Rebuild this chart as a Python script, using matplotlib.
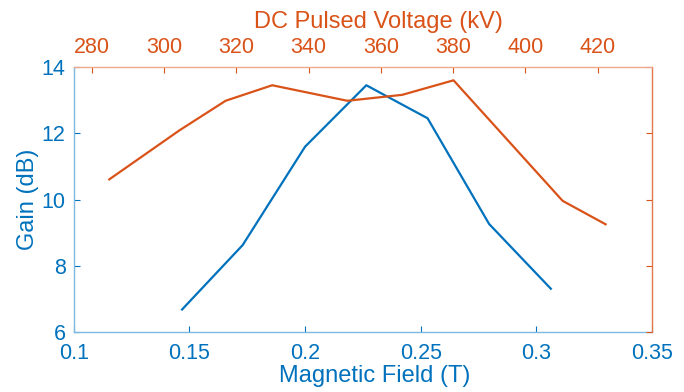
import matplotlib
matplotlib.use("Agg")
import matplotlib.pyplot as plt

# blue curve: gain vs magnetic field
field_T = [0.1468, 0.173, 0.2, 0.2265, 0.253, 0.2796, 0.3063]
gain_field = [6.67, 8.62, 11.60, 13.46, 12.46, 9.26, 7.30]

# orange curve: gain vs DC pulsed voltage
voltage_kV = [284.8, 304.3, 317.0, 329.9, 350.7, 365.9, 380.1, 410.3, 422.2]
gain_voltage = [10.61, 12.10, 12.99, 13.46, 12.99, 13.17, 13.61, 9.96, 9.25]

field_ticks = [0.1, 0.15, 0.2, 0.25, 0.3, 0.35]
field_ticklabels = ["0.1", "0.15", "0.2", "0.25", "0.3", "0.35"]
voltage_ticks = [280, 300, 320, 340, 360, 380, 400, 420]
gain_ticks = [6, 8, 10, 12, 14]

BLUE = "#0072BD"
ORANGE = "#D95319"
TICK_FS = 15.5
LABEL_FS = 17

plt.rcParams["font.family"] = ["Liberation Sans", "DejaVu Sans"]

fig = plt.figure(figsize=(6.84, 3.92), dpi=100)
rect = [0.108, 0.154, 0.845, 0.674]

ax = fig.add_axes(rect)
ax.plot(field_T, gain_field, color=BLUE, linewidth=1.6)
ax.set_xlim(0.1, 0.35)
ax.set_ylim(6, 14)
ax.set_xticks(field_ticks)
ax.set_xticklabels(field_ticklabels)
ax.set_yticks(gain_ticks)
ax.tick_params(axis="both", direction="in", length=4, width=0.8,
               colors=BLUE, labelsize=TICK_FS)
ax.tick_params(axis="x", pad=8)
ax.tick_params(axis="y", pad=6)
ax.set_xlabel("Magnetic Field (T)", color=BLUE, fontsize=LABEL_FS)
ax.set_ylabel("Gain (dB)", color=BLUE, fontsize=LABEL_FS)
ax.xaxis.set_label_coords(0.52, -0.128)
ax.yaxis.set_label_coords(-0.06, 0.5)
for s in ["top", "right"]:
    ax.spines[s].set_visible(False)
for s in ["left", "bottom"]:
    ax.spines[s].set_color("#7fb8e0")
    ax.spines[s].set_linewidth(1.0)

ax2 = fig.add_axes(rect)
ax2.patch.set_visible(False)
ax2.plot(voltage_kV, gain_voltage, color=ORANGE, linewidth=1.6)
ax2.set_xlim(275, 435)
ax2.set_ylim(6, 14)
ax2.xaxis.tick_top()
ax2.xaxis.set_label_position("top")
ax2.yaxis.tick_right()
ax2.set_xticks(voltage_ticks)
ax2.set_yticks(gain_ticks)
ax2.set_yticklabels([])
ax2.tick_params(axis="both", direction="in", length=4, width=0.8,
                colors=ORANGE, labelsize=TICK_FS, pad=7)
ax2.set_xlabel("DC Pulsed Voltage (kV)", color=ORANGE, fontsize=LABEL_FS)
ax2.xaxis.set_label_coords(0.527, 1.148)
for s in ["left", "bottom"]:
    ax2.spines[s].set_visible(False)
ax2.spines["top"].set_color("#eea98c")
ax2.spines["right"].set_color("#e2784a")
ax2.spines["top"].set_linewidth(1.0)
ax2.spines["right"].set_linewidth(1.0)

fig.savefig("out.png", dpi=100)
